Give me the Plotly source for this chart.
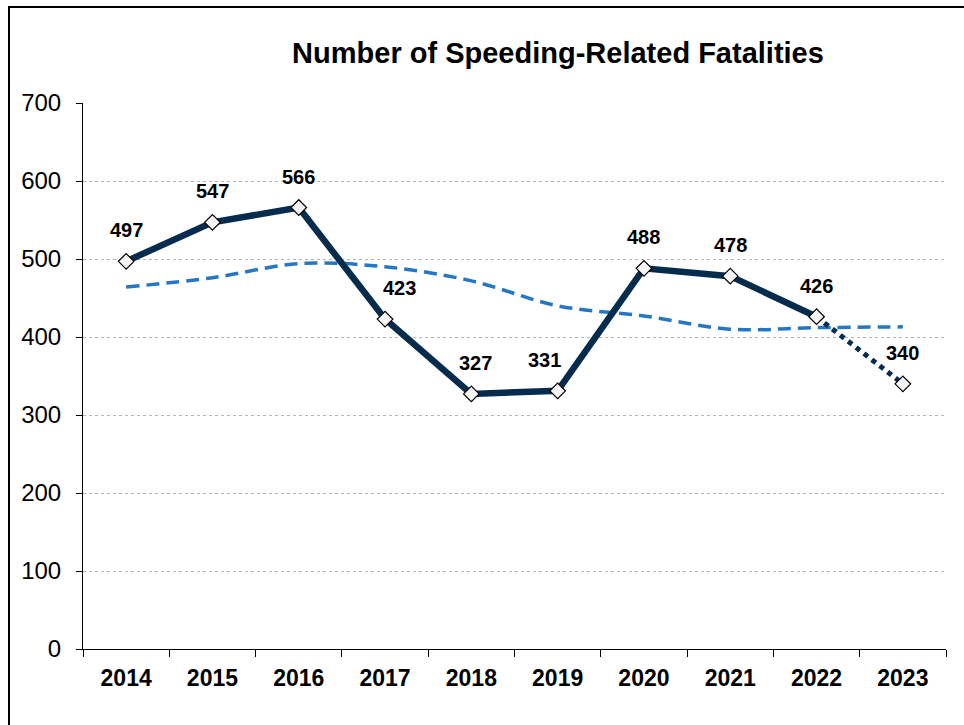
import plotly.graph_objects as go

years = ["2014", "2015", "2016", "2017", "2018", "2019", "2020", "2021", "2022", "2023"]
fatalities = [497, 547, 566, 423, 327, 331, 488, 478, 426, 340]
trend = [464, 476, 494, 490, 472, 440, 427, 410, 412, 413]
label_xshift = [0, 0, 0, 14, 4, -13, 0, 0, 0, 0]

navy = "#062c4d"
blue = "#2577c6"
FONT = "Liberation Sans, Arial"

fig = go.Figure()

# trend line (dashed, smooth)
fig.add_trace(go.Scatter(
    x=years, y=trend, mode="lines", line_shape="spline",
    line=dict(color=blue, width=3.5, dash="13px,7px"),
    hoverinfo="skip"
))

# dotted projection segment 2022 -> 2023
fig.add_trace(go.Scatter(
    x=years[-2:], y=fatalities[-2:], mode="lines",
    line=dict(color=navy, width=5, dash="dot"),
    hoverinfo="skip"
))

# main series
fig.add_trace(go.Scatter(
    x=years[:-1], y=fatalities[:-1], mode="lines",
    line=dict(color=navy, width=6.5),
))

fig.add_trace(go.Scatter(
    x=years, y=fatalities, mode="markers",
    marker=dict(symbol="diamond", size=12, color="#f4f4f4",
                line=dict(color="black", width=1.2)),
))

# data labels (category index on x so plotly doesn't read "2014" as a number)
for i, (v, dx) in enumerate(zip(fatalities, label_xshift)):
    fig.add_annotation(x=i, y=v, text=f"<b>{v}</b>", showarrow=False,
                       yshift=31, xshift=dx,
                       font=dict(size=20, color="black", family=FONT))

fig.update_layout(
    width=964, height=725,
    margin=dict(l=83, r=18, t=103, b=76),
    plot_bgcolor="white", paper_bgcolor="white",
    showlegend=False,
    font=dict(family=FONT, color="black"),
    title=dict(text="<b>Number of Speeding-Related Fatalities</b>",
               x=558 / 964, xanchor="center", y=1 - 53 / 725, yanchor="middle",
               font=dict(size=29, color="black")),
)

fig.update_xaxes(
    type="category", showline=True, linecolor="black", linewidth=1,
    ticks="outside", tickson="boundaries", ticklen=7, tickcolor="black",
    tickfont=dict(size=23, color="black", family=FONT),
    tickprefix="<b>", ticksuffix="</b>", ticklabelstandoff=8,
    showgrid=False, range=[-0.5, 9.5],
)
fig.update_yaxes(
    range=[0, 700], dtick=100, showline=True, linecolor="black", linewidth=1,
    ticks="outside", ticklen=6, tickcolor="black",
    tickfont=dict(size=24, color="black"), ticklabelstandoff=10,
    showgrid=True, gridcolor="#b5b5b5", griddash="dot", gridwidth=1,
    zeroline=False,
)

# outer chart frame (partly cropped at right and bottom)
fig.add_shape(type="rect", xref="paper", yref="paper",
              x0=(9 - 83) / 863, x1=1.2, y0=-0.3, y1=(649 - 7) / 546,
              line=dict(color="black", width=2), layer="below")

fig.write_html("out.html", config={"displayModeBar": False},
               post_script="document.body.style.margin='0';")
